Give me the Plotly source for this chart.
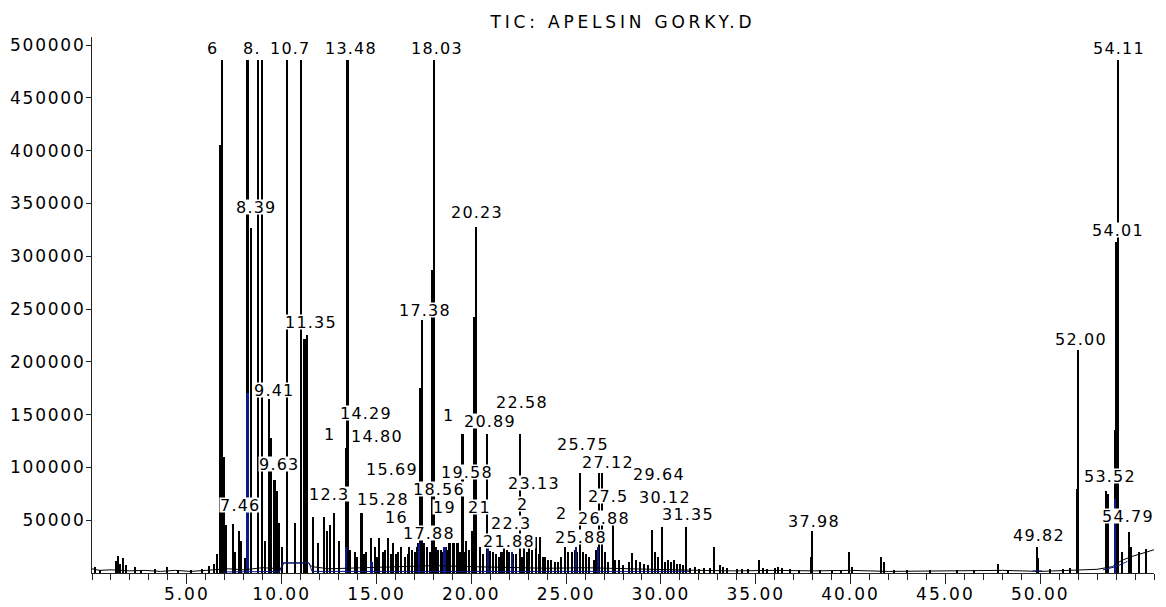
import plotly.graph_objects as go

# ---------------- data ----------------
title_text = "TIC: APELSIN GORKY.D"

# narrow peaks: retention time (min), abundance
thin_t = [0.15, 0.45, 1.28, 1.40, 1.50, 1.62, 1.78, 2.25, 2.60, 3.35, 3.95, 4.55, 5.20, 5.80,
          6.15, 6.45, 6.62, 6.84, 6.95, 7.05, 7.42, 7.52, 7.75, 7.85, 8.05, 8.39, 8.78, 8.99,
          9.15, 9.36, 9.45, 9.85, 10.00, 10.31, 10.70, 11.00, 11.35, 11.64, 11.90, 12.26,
          12.40, 12.55, 12.78, 13.05, 13.60, 13.85, 14.45, 14.72, 14.95, 15.16, 15.35, 15.60,
          15.85, 16.05, 16.30, 16.50, 16.74, 17.05, 17.38, 18.03, 18.14, 18.40, 18.67, 18.90,
          19.75, 20.06, 20.23, 20.45, 20.81, 21.00, 21.30, 21.55, 21.75, 22.00, 22.20, 22.58,
          22.80, 23.05, 23.40, 23.65, 23.90, 24.20, 24.55, 24.95, 25.30, 25.72, 26.20, 26.72,
          26.92, 27.45, 27.80, 28.50, 28.70, 29.10, 29.55, 29.70, 30.07, 30.40, 30.70, 31.00,
          31.35, 31.80, 32.30, 32.80, 33.10, 33.50, 34.00, 34.60, 35.20, 35.60, 36.00, 36.40,
          36.80, 37.30, 37.90, 37.98, 38.40, 39.00, 39.50, 39.93, 40.10, 41.60, 41.75, 42.30,
          43.00, 44.20, 45.60, 46.50, 47.80, 48.30, 49.82, 49.90, 50.50, 51.20, 51.60, 52.00,
          53.46, 53.60, 54.11, 54.30, 54.69, 54.80, 55.20, 55.60,
          14.00, 14.35, 15.05, 15.45, 15.75, 16.15, 16.65, 16.90, 17.15, 17.65, 17.80, 18.25,
          18.50, 18.78, 19.40, 19.65, 19.90, 20.60, 21.15, 21.45, 21.65, 21.90, 22.35, 22.70,
          22.95, 23.20, 23.55, 23.80, 24.05, 24.40, 24.75, 25.10, 25.45, 25.60, 25.90, 26.05,
          26.45, 26.60, 27.05, 27.20, 27.60, 28.00, 28.30, 28.90, 29.30, 29.85, 30.20, 30.55,
          30.85, 31.15, 31.55, 32.00, 32.60, 33.30, 34.30, 35.40, 36.20]
thin_h = [6000, 2500, 11000, 16000, 9000, 14000, 8000, 6000, 3000, 3500, 5500, 3000, 2500, 3500,
          7000, 9000, 18000, 486000, 110000, 45000, 46000, 20000, 40000, 30000, 14000, 327000, 486000, 486000,
          30000, 165000, 128000, 47000, 25000, 486000, 47000, 486000, 225000, 53000, 28000, 53000,
          40000, 45000, 57000, 30000, 22000, 20000, 20000, 33000, 25000, 33000, 20000, 33000,
          28000, 18000, 25000, 15000, 25000, 20000, 240000, 486000, 25000, 22000, 25000, 22000,
          30000, 40000, 328000, 25000, 132000, 21000, 18000, 20000, 25000, 20000, 18000, 132000,
          34000, 25000, 34000, 34000, 15000, 12000, 10000, 25000, 20000, 95000, 15000, 95000,
          95000, 55000, 12000, 19000, 12000, 9000, 41000, 20000, 44000, 12000, 12000, 9000,
          44000, 6000, 5000, 25000, 8000, 5000, 4000, 4000, 12000, 4000, 5000, 5000,
          4000, 3000, 15000, 40000, 3000, 3000, 3000, 20000, 6000, 15000, 10000, 3000,
          3000, 3000, 3000, 3000, 9000, 3000, 25000, 14000, 4000, 4000, 5000, 211000,
          78000, 75000, 486000, 20000, 39000, 25000, 20000, 23000,
          15000, 18000, 15000, 22000, 18000, 20000, 18000, 22000, 25000, 25000, 20000, 22000,
          20000, 22000, 20000, 20000, 22000, 18000, 20000, 15000, 20000, 22000, 18000, 15000,
          20000, 22000, 18000, 15000, 12000, 10000, 15000, 20000, 22000, 20000, 20000, 18000,
          12000, 22000, 20000, 10000, 12000, 8000, 10000, 10000, 8000, 15000, 10000, 10000,
          9000, 8000, 5000, 4000, 5000, 6000, 4000, 5000, 6000]

# wide (merged) peaks
thick_t = [6.80, 8.22, 9.63, 9.75, 11.22, 13.40, 13.48, 14.19, 17.20, 17.30, 17.50, 17.95,
           18.85, 19.05, 19.25, 19.55, 20.18, 51.95, 53.55, 53.95, 54.01]
thick_h = [405000, 486000, 88000, 78000, 222000, 118000, 486000, 57000, 28000, 175000, 28000, 287000,
           28000, 28000, 28000, 132000, 242000, 80000, 35000, 135000, 313000]

# integrated (blue) peak areas
navy_t = [8.22, 13.42, 14.75, 17.25, 18.60, 20.90, 22.15, 25.55, 26.70, 53.95]
navy_h = [170000, 25000, 10000, 28000, 25000, 25000, 20000, 25000, 25000, 70000]

# baseline signal
base_t = [0.0, 0.4, 1.0, 2.0, 2.8, 3.6, 4.4, 5.2, 6.0, 6.6, 7.2, 8.0, 9.0, 10.0, 10.1, 11.4,
          11.6, 12.5, 14.0, 16.0, 18.0, 20.0, 22.0, 24.0, 26.0, 28.0, 30.0, 32.0, 34.0, 36.0,
          38.0, 40.0, 42.0, 44.0, 46.0, 48.0, 50.0, 52.0, 53.0, 53.8, 54.3, 54.9, 55.4, 56.0]
base_v = [4000, 2500, 3000, 2000, 2500, 1500, 2500, 1500, 2500, 3000, 4000, 3000, 5000, 4000, 9500, 9500,
          6000, 4000, 5000, 6000, 7000, 6000, 5000, 4500, 5000, 4000, 3500, 2500, 2000, 2500,
          2000, 2500, 1500, 2000, 2000, 2500, 1500, 2500, 3500, 6000, 12000, 16000, 19000, 22000]

# integration baseline (blue)
integ_t = [6.9, 7.9, 8.0, 9.9, 10.05, 11.45, 11.6, 31.5, None, 49.6, 50.1, None, 53.3, 54.0, 54.6]
integ_v = [1000, 1000, 1500, 1500, 9500, 9500, 1500, 1500, None, 2000, 2000, None, 3000, 6000, 11000]

# peak labels as printed (text, retention time position, abundance position)
label_text = ["6", "8.", "10.7", "13.48", "18.03", "54.11", "8.39", "20.23", "54.01", "17.38",
              "11.35", "52.00", "9.41", "22.58", "14.29", "1", "20.89", "1", "14.80", "25.75",
              "27.12", "9.63", "15.69", "19.58", "29.64", "23.13", "18.56", "12.3", "27.5", "30.12",
              "15.28", "7.46", "19", "21", "2", "2", "31.35", "16", "37.98", "49.82",
              "22.3", "26.88", "17.88", "21.88", "25.88", "53.52", "54.79"]
label_t = [6.35, 8.43, 10.46, 13.68, 18.19, 54.16, 8.67, 20.32, 54.09, 17.58,
           11.54, 52.16, 9.62, 22.69, 14.47, 18.82, 21.01, 12.52, 15.05, 25.91,
           27.23, 9.88, 15.84, 19.79, 29.92, 23.32, 18.32, 12.52, 27.23, 30.23,
           15.37, 7.78, 18.58, 20.43, 22.69, 24.75, 31.44, 16.05, 38.09, 49.95,
           22.11, 27.02, 17.79, 22.00, 25.80, 53.69, 54.65]
label_v = [497200, 497200, 497200, 497200, 497200, 497200, 346600, 341900, 324800, 249100,
           237700, 221600, 173300, 161900, 151500, 149600, 143900, 131600, 129700, 122200,
           105200, 103200, 98500, 95600, 93800, 85200, 79500, 74800, 72900, 72000,
           70100, 64400, 62500, 62500, 65000, 56800, 55900, 53000, 49200, 36000,
           47300, 52000, 37900, 30300, 34000, 91900, 54000]

ytick_vals = [50000, 100000, 150000, 200000, 250000, 300000, 350000, 400000, 450000, 500000]
xtick_vals = [5, 10, 15, 20, 25, 30, 35, 40, 45, 50]
x_range = [0, 56]
y_range = [0, 507576]

# ---------------- figure ----------------
FONT = "DejaVu Sans"
NAVY = "#0a1a8a"
# the page keeps its default 8px body margin; the figure fills the rest of the window
FIG_W, FIG_H = 1158, 599


def spaced(s, px):
    return '<span style="letter-spacing:%spx">%s</span>' % (px, s)


fig = go.Figure()
fig.add_trace(go.Scatter(x=base_t, y=base_v, mode="lines",
                         line=dict(color="black", width=1), hoverinfo="skip"))
fig.add_trace(go.Bar(x=thin_t, y=thin_h, width=0.06,
                     marker=dict(color="black", line=dict(width=0)), hoverinfo="skip"))
fig.add_trace(go.Bar(x=thick_t, y=thick_h, width=0.16,
                     marker=dict(color="black", line=dict(width=0)), hoverinfo="skip"))
fig.add_trace(go.Bar(x=navy_t, y=navy_h, width=0.1,
                     marker=dict(color=NAVY, line=dict(width=0)), hoverinfo="skip"))
fig.add_trace(go.Scatter(x=integ_t, y=integ_v, mode="lines", connectgaps=False,
                         line=dict(color=NAVY, width=1), hoverinfo="skip"))

for txt, t, v in zip(label_text, label_t, label_v):
    fig.add_annotation(x=t, y=v, xref="x", yref="y", text=spaced(txt, 1.2),
                       showarrow=False, xanchor="center", yanchor="middle",
                       bgcolor="white", borderpad=0, height=14,
                       font=dict(family=FONT, size=16, color="black"))

fig.update_layout(
    width=FIG_W, height=FIG_H, autosize=False,
    margin=dict(l=84, r=12, t=29, b=34, autoexpand=False),
    paper_bgcolor="white", plot_bgcolor="white",
    showlegend=False, barmode="overlay", bargap=0,
    title=dict(text=spaced(title_text, 3.8), x=0.5, xref="paper", xanchor="center",
               y=1 - 14 / FIG_H, yref="container", yanchor="middle",
               font=dict(family=FONT, size=17, color="black")),
)
fig.update_xaxes(range=x_range, automargin=False, showgrid=False, zeroline=False,
                 showline=True, linecolor="#222", linewidth=1,
                 ticks="outside", ticklen=10, tickcolor="#222", tickwidth=1,
                 tickvals=xtick_vals, ticklabelstandoff=-4,
                 ticktext=[spaced("%.2f" % v, 2) for v in xtick_vals],
                 tickfont=dict(family=FONT, size=17, color="black"),
                 minor=dict(dtick=1, tick0=0, ticks="outside", ticklen=6,
                            tickcolor="#222", tickwidth=1, showgrid=False))
fig.update_yaxes(range=y_range, automargin=False, showgrid=False, zeroline=False,
                 showline=True, linecolor="#222", linewidth=1,
                 ticks="outside", ticklen=5, tickcolor="#222", tickwidth=1,
                 tickvals=ytick_vals, ticklabelstandoff=-3,
                 ticktext=[spaced(str(v), 1.8) for v in ytick_vals],
                 tickfont=dict(family=FONT, size=17, color="black"))

fig.write_html("out.html")
